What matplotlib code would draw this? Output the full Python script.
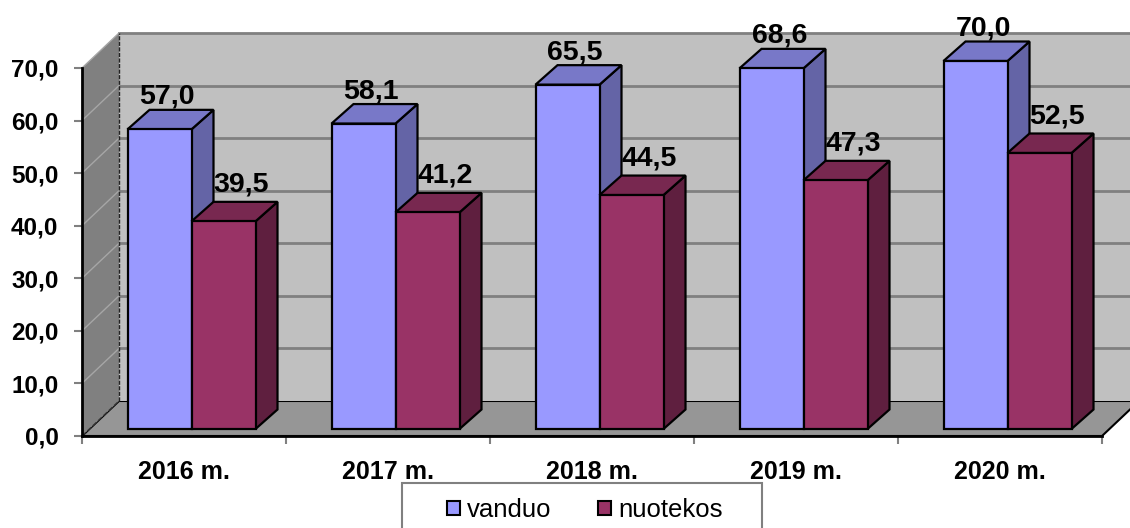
import matplotlib
matplotlib.use("Agg")
import matplotlib.pyplot as plt
from matplotlib.patches import Polygon, Rectangle, Patch

plt.rcParams['font.family'] = ['Liberation Sans', 'DejaVu Sans']

# Data
categories = ['2016 m.', '2017 m.', '2018 m.', '2019 m.', '2020 m.']
series_names = ['vanduo', 'nuotekos']
vanduo = [57.0, 58.1, 65.5, 68.6, 70.0]
nuotekos = [39.5, 41.2, 44.5, 47.3, 52.5]
yticks = [0, 10, 20, 30, 40, 50, 60, 70]

# Colours: front, top, side
colors = {
    'vanduo': ('#9999ff', '#7878c8', '#6464a6'),
    'nuotekos': ('#993366', '#782850', '#5f1f3f'),
}

W, H = 1130, 528
fig = plt.figure(figsize=(W / 100, H / 100), dpi=100)
# front plane of the 3d box
ax = fig.add_axes([82 / W, (H - 436) / H, 1020 / W, 368 / H])
ax.set_xlim(0, len(categories))
ax.set_ylim(0, 70)
ax.patch.set_visible(False)

px_x = 1020 / len(categories)   # pixels per category
px_y = 368 / 70                  # pixels per unit value

# depth offsets (in data units)
WX, WY = 37 / px_x, 35 / px_y      # wall depth
BX0, BY0 = 7.5 / px_x, 7 / px_y    # bar front plane offset
DX, DY = 22 / px_x, 19.5 / px_y    # bar depth
bw = 64 / px_x                     # bar width

n = len(categories)
ymax = yticks[-1]

# floor
ax.add_patch(Polygon([(0, 0), (n, 0), (n + WX, WY), (WX, WY)], closed=True,
                     facecolor='#969696', edgecolor='black', lw=1.5, zorder=1, clip_on=False))
# back wall
ax.add_patch(Polygon([(WX, WY), (n + WX, WY), (n + WX, ymax + WY), (WX, ymax + WY)], closed=True,
                     facecolor='#c0c0c0', edgecolor='none', zorder=1, clip_on=False))
# side wall
ax.add_patch(Polygon([(0, 0), (WX, WY), (WX, ymax + WY), (0, ymax)], closed=True,
                     facecolor='#808080', edgecolor='none', zorder=1, clip_on=False))

# gridlines
for v in yticks[1:]:
    ax.plot([WX, n + WX], [v + WY, v + WY], color='#808080', lw=2, zorder=2, clip_on=False)
    ax.plot([0, WX], [v, v + WY], color='#a6a6a6', lw=1, zorder=2, clip_on=False)
ax.plot([0, WX], [0, WY], color='#333333', lw=1, ls='--', zorder=2, clip_on=False)
ax.plot([WX, WX], [WY, ymax + WY], color='#222222', lw=1, ls=(0, (3, 1)), zorder=2, clip_on=False)

# bars
label_shift = {'vanduo': 0.35, 'nuotekos': 0.8}
label_gap = {'vanduo': 6 / px_y, 'nuotekos': 10 / px_y}
z = 3
for i in range(n):
    for j, (name, vals) in enumerate(zip(series_names, [vanduo, nuotekos])):
        front, top, side = colors[name]
        val = vals[i]
        x0 = i + 0.5 - bw + j * bw + BX0
        y0 = BY0
        ax.add_patch(Polygon([(x0 + bw, y0), (x0 + bw + DX, y0 + DY), (x0 + bw + DX, y0 + val + DY), (x0 + bw, y0 + val)],
                             closed=True, facecolor=side, edgecolor='black', lw=1.6, zorder=z, clip_on=False))
        ax.add_patch(Polygon([(x0, y0 + val), (x0 + bw, y0 + val), (x0 + bw + DX, y0 + val + DY), (x0 + DX, y0 + val + DY)],
                             closed=True, facecolor=top, edgecolor='black', lw=1.6, zorder=z, clip_on=False))
        ax.add_patch(Rectangle((x0, y0), bw, val, facecolor=front, edgecolor='black', lw=1.6,
                               zorder=z, clip_on=False))
        ax.text(x0 + bw / 2 + label_shift[name] * DX, y0 + val + DY + label_gap[name],
                f"{val:.1f}".replace('.', ','), ha='center', va='baseline',
                fontsize=20.5, fontweight='bold', zorder=20, clip_on=False)
        z += 1

# axes
for s in ['top', 'right']:
    ax.spines[s].set_visible(False)
ax.spines['left'].set_linewidth(2)
ax.spines['left'].set_zorder(15)
ax.spines['bottom'].set_linewidth(2)
ax.spines['bottom'].set_zorder(15)

ax.set_yticks(yticks)
ax.set_yticklabels([f"{v:.1f}".replace('.', ',') for v in yticks])
ax.tick_params(axis='y', direction='out', length=6, width=1.5, color='#808080',
               labelsize=17.5, pad=11)
for t in ax.get_yticklabels():
    t.set_fontweight('bold')

ax.set_xticks([i + 0.5 for i in range(n)])
ax.set_xticklabels(categories)
ax.set_xticks(list(range(n + 1)), minor=True)
ax.tick_params(axis='x', which='major', length=0, labelsize=18, pad=17)
ax.tick_params(axis='x', which='minor', direction='out', length=6, width=1.5, color='#808080')
for t in ax.get_xticklabels():
    t.set_fontweight('bold')

# legend
fig.patches.append(Rectangle((402 / W, -0.05), 360 / W, 0.05 + 45 / H, transform=fig.transFigure,
                             facecolor='white', edgecolor='#808080', lw=1.5, zorder=0))
handles = [Patch(facecolor=colors[nm][0], edgecolor='black', lw=1.5) for nm in series_names]
fig.legend(handles, series_names, loc='center', bbox_to_anchor=(585 / W, 18 / H), ncol=2,
           frameon=False, fontsize=18.5, handlelength=0.5, handleheight=0.5,
           handletextpad=0.3, columnspacing=1.8)

fig.savefig('out.png', dpi=100)
